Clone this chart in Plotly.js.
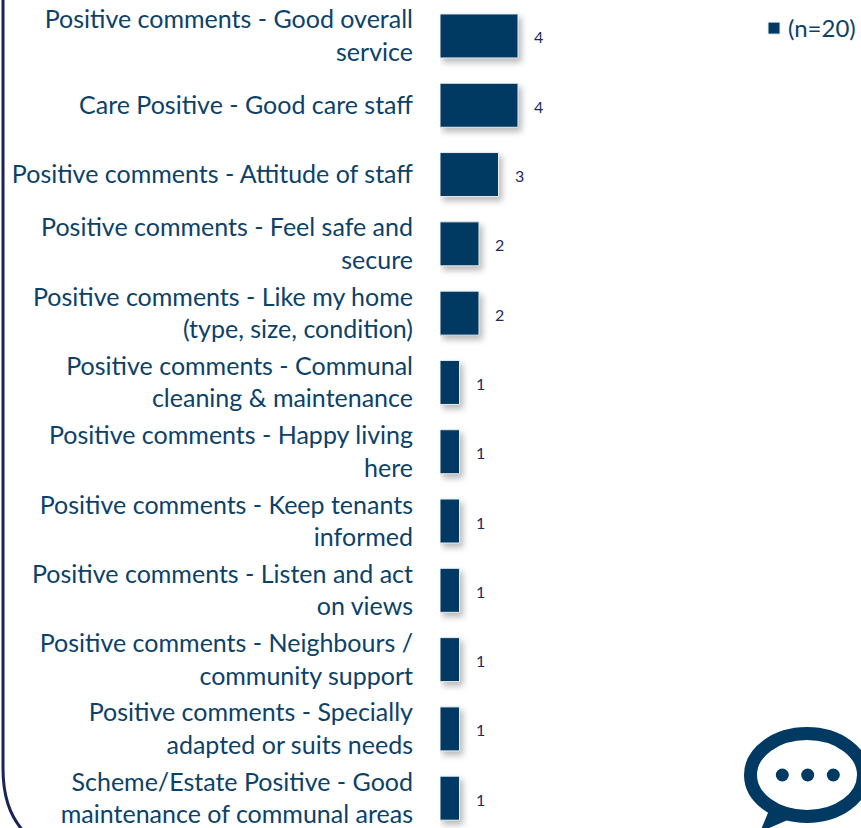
<!DOCTYPE html>
<html>
<head>
<meta charset="utf-8">
<script src="https://cdn.plot.ly/plotly-3.0.1.min.js"></script>
<style>
html,body{margin:0;padding:0;background:#fff;overflow:hidden}
#chart{width:861px;height:828px;overflow:hidden}
.barlayer .point path{filter:drop-shadow(3px 4px 3px rgba(0,0,0,.28))}
.legend .legendsymbols{transform:translateX(6px)}
</style>
</head>
<body>
<div id="chart"></div>
<script>
var categories = [
  "Positive comments - Good overall<br>service",
  "Care Positive - Good care staff",
  "Positive comments - Attitude of staff",
  "Positive comments - Feel safe and<br>secure",
  "Positive comments - Like my home<br>(type, size, condition)",
  "Positive comments - Communal<br>cleaning & maintenance",
  "Positive comments - Happy living<br>here",
  "Positive comments - Keep tenants<br>informed",
  "Positive comments - Listen and act<br>on views",
  "Positive comments - Neighbours /<br>community support",
  "Positive comments - Specially<br>adapted or suits needs",
  "Scheme/Estate Positive - Good<br>maintenance of communal areas"
];
var values = [4,4,3,2,2,1,1,1,1,1,1,1];
var seriesName = "(n=20)";
var barColor = "#003A63";
var textColor = "#0C4269";
var labelColor = "#1F2A5E";
var frameColor = "#1B2455";

var positions = categories.map(function(_,i){return i;});
var trace = {
  type:"bar", orientation:"h", name:seriesName,
  y:positions, x:values,
  marker:{color:barColor, line:{color:"#E8EEF2", width:1}},
  width:0.635, showlegend:true, hoverinfo:"x+y"
};
var W=421;
function px(x){return (x-440)/W;}
function py(y){return 1-y/828;}
function P(x,y){return px(x)+","+py(y);}
var shapes = [
  {type:"path", xref:"paper", yref:"paper", layer:"above",
   line:{color:frameColor,width:3},
   path:"M"+P(3,-5)+" L"+P(3,768)+" C"+P(3,795)+" "+P(9,815)+" "+P(24,832)},
  {type:"circle", xref:"paper", yref:"paper", layer:"above",
   line:{color:barColor,width:13}, fillcolor:"rgba(0,0,0,0)",
   x0:px(750.5), x1:px(863.5), y0:py(733.5), y1:py(816.5)},
  {type:"path", xref:"paper", yref:"paper", layer:"above",
   line:{width:0}, fillcolor:barColor,
   path:"M"+P(770,808)+" L"+P(760,832)+" L"+P(790,819)+" Z"},
  {type:"circle", xref:"paper", yref:"paper", layer:"above", line:{width:0}, fillcolor:barColor,
   x0:px(775.8), x1:px(788.8), y0:py(768.5), y1:py(781.5)},
  {type:"circle", xref:"paper", yref:"paper", layer:"above", line:{width:0}, fillcolor:barColor,
   x0:px(801.2), x1:px(814.2), y0:py(768.5), y1:py(781.5)},
  {type:"circle", xref:"paper", yref:"paper", layer:"above", line:{width:0}, fillcolor:barColor,
   x0:px(826.8), x1:px(839.8), y0:py(768.5), y1:py(781.5)}
];
var annotations = values.map(function(v,i){
  return {x:v, y:i, xref:"x", yref:"y", text:String(v), showarrow:false,
    xanchor:"left", xshift:14, yshift:-1, font:{family:"Lato, sans-serif", size:16, color:labelColor}};
});
var layout = {
  width:885, height:828,
  margin:{l:440,r:24,t:0,b:0,pad:0},
  paper_bgcolor:"#fff", plot_bgcolor:"rgba(0,0,0,0)",
  font:{family:"Lato, sans-serif", color:textColor},
  xaxis:{range:[0,21.59], visible:false, fixedrange:true},
  yaxis:{
    range:[11.43,-0.519], tickmode:"array", tickvals:positions, ticktext:categories,
    tickfont:{family:"Lato, sans-serif", size:25, color:textColor}, ticklabeloverflow:"allow",
    ticks:"outside", ticklen:21, tickcolor:"rgba(0,0,0,0)", showline:false, showgrid:false, zeroline:false, fixedrange:true
  },
  legend:{x:px(748),y:py(6),xanchor:"left",yanchor:"top",font:{size:24,color:textColor,family:"Lato, sans-serif"},bgcolor:"rgba(0,0,0,0)"},
  shapes:shapes, annotations:annotations
};
Plotly.newPlot("chart",[trace],layout,{displayModeBar:false,responsive:false});
</script>
</body>
</html>
